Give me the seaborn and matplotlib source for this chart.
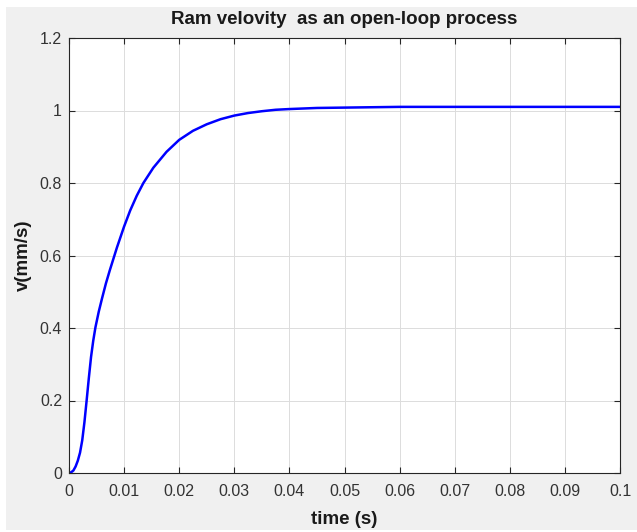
import matplotlib
matplotlib.use("Agg")
import matplotlib.pyplot as plt
import seaborn as sns
import pandas as pd
from matplotlib.patches import Rectangle

# Data
time_s = [0, 0.0004, 0.0008, 0.0012, 0.0016, 0.002, 0.0024, 0.0028, 0.0032, 0.0036,
          0.004, 0.0044, 0.0048, 0.0054, 0.006, 0.0067, 0.0074, 0.0087, 0.01, 0.0111,
          0.0123, 0.0135, 0.0153, 0.0177, 0.02, 0.0225, 0.025, 0.0275, 0.03, 0.0325,
          0.035, 0.0375, 0.04, 0.045, 0.05, 0.055, 0.06, 0.07, 0.08, 0.09, 0.1]
velocity = [0, 0.002, 0.007, 0.018, 0.034, 0.056, 0.09, 0.14, 0.2, 0.262,
            0.32, 0.365, 0.402, 0.445, 0.482, 0.523, 0.559, 0.622, 0.68, 0.724,
            0.765, 0.8, 0.842, 0.886, 0.919, 0.944, 0.962, 0.976, 0.986, 0.993,
            0.998, 1.002, 1.004, 1.007, 1.008, 1.009, 1.01, 1.01, 1.01, 1.01, 1.01]
x_ticks = [0, 0.01, 0.02, 0.03, 0.04, 0.05, 0.06, 0.07, 0.08, 0.09, 0.1]
x_tick_labels = ["0", "0.01", "0.02", "0.03", "0.04", "0.05", "0.06", "0.07", "0.08", "0.09", "0.1"]
y_ticks = [0, 0.2, 0.4, 0.6, 0.8, 1.0, 1.2]
y_tick_labels = ["0", "0.2", "0.4", "0.6", "0.8", "1", "1.2"]

df = pd.DataFrame({"time": time_s, "v": velocity})

sns.set_style("ticks")
plt.rcParams["font.family"] = ["Liberation Sans", "DejaVu Sans"]

W, H = 637, 532
fig = plt.figure(figsize=(W / 100, H / 100), dpi=100, facecolor="white")
# gray MATLAB figure area with thin white margin on top/left
bg = Rectangle((6 / W, 2 / H), 1 - 6 / W, 1 - 9 / H, transform=fig.transFigure,
               facecolor="#f0f0f0", edgecolor="none", zorder=-10)
fig.patches.append(bg)

left, right, top, bottom = 69, 620, 38, 473
ax_w, ax_h = right - left, bottom - top
ax = fig.add_axes([left / W, 1 - bottom / H, ax_w / W, ax_h / H])
ax.set_zorder(1)
ax.set_facecolor("white")

sns.lineplot(data=df, x="time", y="v", ax=ax, color="#0000ff", linewidth=1.8)

ax.set_xlim(0, 0.1)
ax.set_ylim(0, 1.2)
ax.set_xticks(x_ticks)
ax.set_xticklabels(x_tick_labels)
ax.set_yticks(y_ticks)
ax.set_yticklabels(y_tick_labels)
ax.grid(True, color="#dcdcdc", linewidth=0.7)
ax.set_axisbelow(True)
for s in ax.spines.values():
    s.set_visible(True)
    s.set_color("#262626")
    s.set_linewidth(0.8)
ax.tick_params(direction="in", length=4, width=0.8, colors="#262626",
               labelsize=11.5, top=True, right=True, labelcolor="#333333")
ax.tick_params(axis="x", pad=8)
ax.tick_params(axis="y", pad=5)

ax.set_title("")
ax.text(0.5, 1 + 19 / ax_h, "Ram velovity  as an open-loop process", transform=ax.transAxes,
        ha="center", va="center", fontsize=13.5, fontweight="bold", color="#1a1a1a")
ax.set_xlabel("time (s)", fontsize=13.5, fontweight="bold", color="#1a1a1a")
ax.set_ylabel("v(mm/s)", fontsize=13.5, fontweight="bold", color="#1a1a1a")
ax.xaxis.set_label_coords(0.5, -46 / ax_h)
ax.xaxis.label.set_va("center")
ax.yaxis.set_label_coords(-46 / ax_w, 0.5)
ax.yaxis.label.set_va("center")

fig.savefig("out.png", dpi=100, facecolor=fig.get_facecolor())
